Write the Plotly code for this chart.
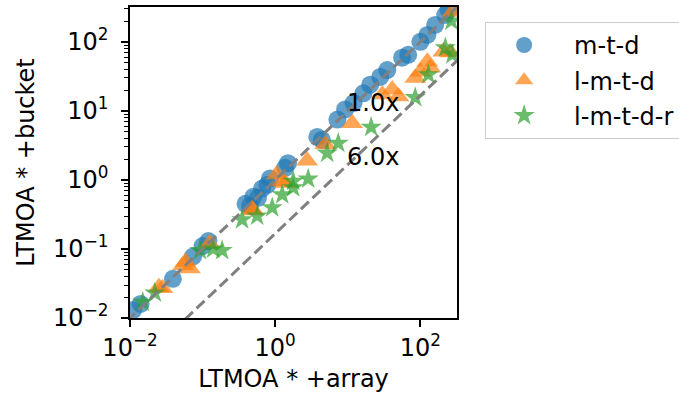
import plotly.graph_objects as go
import numpy as np

# ---- data ----
series_names = ["m-t-d", "l-m-t-d", "l-m-t-d-r"]
blue_x = [0.011, 0.014, 0.039, 0.074, 0.10, 0.12, 0.39, 0.45, 0.50, 0.58, 0.66, 0.78, 0.85,
          1.37, 1.5, 3.8, 4.4, 7.2, 9.2, 12, 16.4, 20.4, 28, 35, 56, 68, 100, 125, 160, 220, 245]
blue_y = [0.013, 0.016, 0.037, 0.078, 0.11, 0.13, 0.45, 0.42, 0.57, 0.55, 0.75, 0.85, 1.05,
          1.5, 1.75, 4.2, 3.8, 7.5, 10.5, 13, 18, 24, 31, 39, 59, 65, 100, 126, 176, 245, 290]
orange_x = [0.025, 0.028, 0.054, 0.058, 0.067, 0.125, 0.48, 0.50, 1.05, 1.25, 1.37, 2.76,
            4.9, 11.5, 30, 41, 50, 85, 100, 125, 137, 207, 260, 276]
orange_y = [0.028, 0.027, 0.058, 0.065, 0.052, 0.12, 0.38, 0.36, 1.2, 0.95, 0.9, 1.9,
            3.3, 6.6, 17.3, 20.4, 16.2, 30, 37, 51.5, 42, 72, 70, 270]
green_x = [0.015, 0.022, 0.092, 0.14, 0.186, 0.35, 0.565, 0.91, 1.25, 1.77, 1.77, 2.85,
           5.2, 7.4, 21, 85, 129, 221, 276, 268]
green_y = [0.017, 0.023, 0.095, 0.10, 0.095, 0.265, 0.30, 0.395, 0.61, 0.77, 0.96, 1.03,
           2.45, 3.4, 5.8, 15.6, 33.5, 82, 65, 200]
ratios = [1.0, 6.0]
ratio_labels = ["1.0x", "6.0x"]
line_x = [0.001, 1000]
tick_vals_x = [0.01, 1, 100]
tick_text_x = ["10<sup>−2</sup>", "10<sup>0</sup>", "10<sup>2</sup>"]
tick_vals_y = [0.01, 0.1, 1, 10, 100]
tick_text_y = ["10<sup>−2</sup>", "10<sup>−1</sup>", "10<sup>0</sup>", "10<sup>1</sup>", "10<sup>2</sup>"]

FONT = "DejaVu Sans"
fig = go.Figure()

styles = [
    ("#1f77b4", "circle", 18),
    ("#ff7f0e", "triangle-up", 19),
    ("#2ca02c", "star", 16),
]
for (xs, ys), name, (col, sym, sz), grp in zip(
        [(blue_x, blue_y), (orange_x, orange_y), (green_x, green_y)], series_names, styles, ["a", "b", "c"]):
    fig.add_trace(go.Scatter(
        x=xs, y=ys, mode="markers", name="\u200b\u2002" + name, legendgroup=grp,
        marker=dict(color=col, symbol=sym, size=sz, opacity=0.7, line=dict(width=0)),
    ))

for r in ratios:
    fig.add_trace(go.Scatter(
        x=line_x, y=[v / r for v in line_x], mode="lines", showlegend=False,
        line=dict(color="#808080", width=3, dash="11px,5px"), hoverinfo="skip",
    ))

for r, lab in zip(ratios, ratio_labels):
    fig.add_annotation(x=1, y=np.log10(10 / r), xref="x", yref="y", text=lab,
                       showarrow=False, xanchor="left", yanchor="bottom", yshift=-8, xshift=-3,
                       font=dict(family=FONT, size=24, color="black"))

axis_common = dict(
    type="log", showgrid=False, zeroline=False, showline=True, linecolor="black",
    linewidth=1.6, mirror=True, ticks="outside", ticklen=7, tickwidth=1.6,
    tickcolor="black", tickfont=dict(family=FONT, size=24, color="black"),
)
minor_y = [m * 10.0 ** e for e in range(-2, 3) for m in range(2, 10)]
fig.update_xaxes(**axis_common, range=[-2, 2.505], tickvals=tick_vals_x, ticktext=tick_text_x,
                 title=dict(text="LTMOA * +array", font=dict(family=FONT, size=24, color="black"),
                            standoff=10))
fig.update_yaxes(**axis_common, range=[-2, 2.505], tickvals=tick_vals_y, ticktext=tick_text_y,
                 ticklabelstandoff=8,
                 minor=dict(tickvals=minor_y, ticks="outside", ticklen=4, tickwidth=1.2,
                            tickcolor="black"),
                 title=dict(text="LTMOA * +bucket", font=dict(family=FONT, size=24, color="black"),
                            standoff=12))

fig.update_layout(
    width=679, height=402, autosize=False,
    margin=dict(l=130, r=222, t=7, b=84, autoexpand=False),
    paper_bgcolor="white", plot_bgcolor="white",
    font=dict(family=FONT, size=24, color="black"),
    legend=dict(x=1.086, y=0.952, xanchor="left", yanchor="top",
                bordercolor="#cccccc", borderwidth=1, bgcolor="white",
                font=dict(family=FONT, size=24, color="black"),
                itemwidth=66, tracegroupgap=1, traceorder="grouped"),
)
fig.write_html("out.html")
